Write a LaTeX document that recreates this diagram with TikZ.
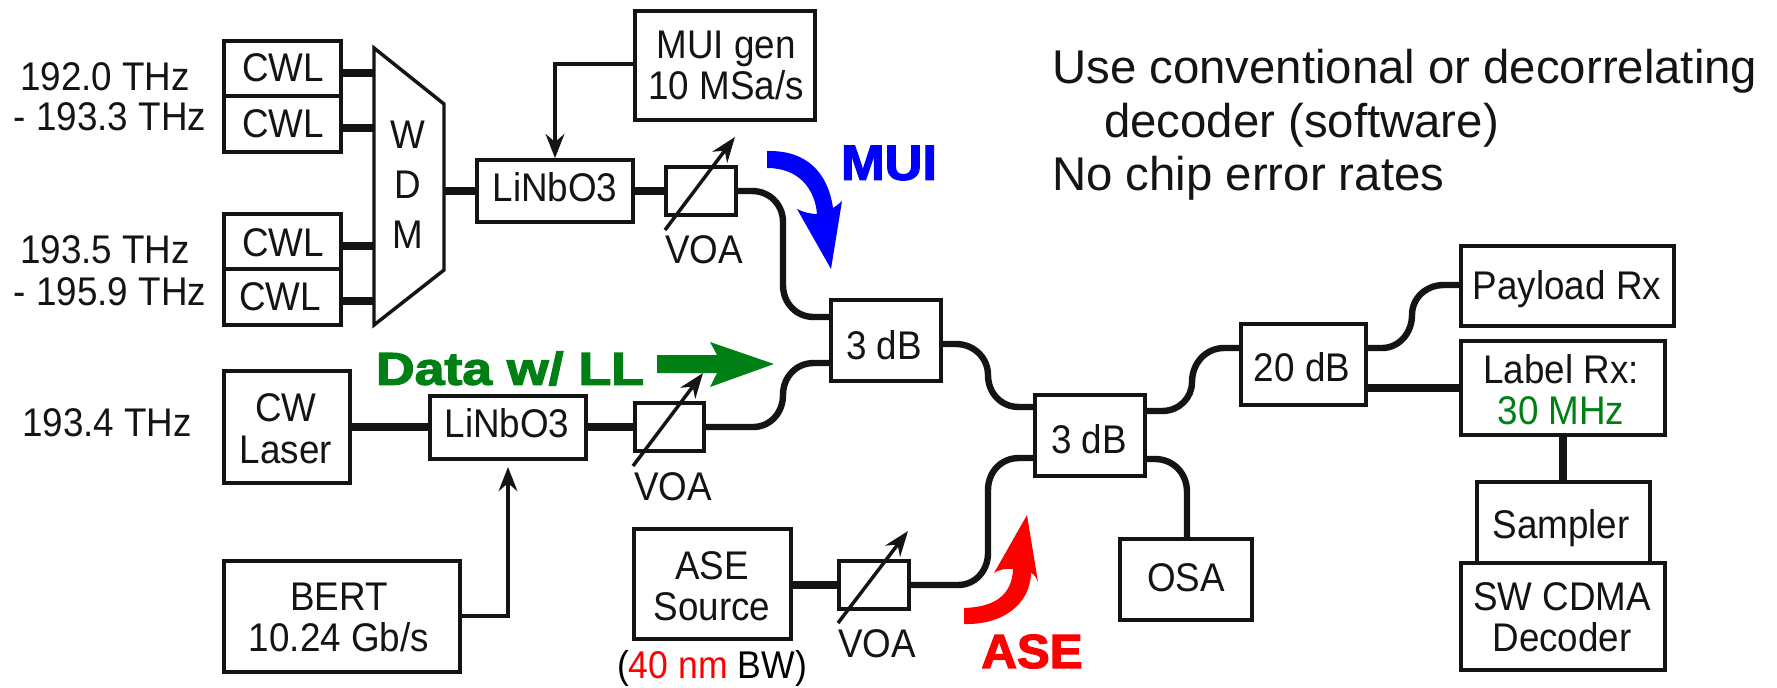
\documentclass[tikz,border=0pt]{standalone}
\usepackage{fontspec}
\usepackage{graphicx}
\setmainfont[FakeStretch=0.92]{Liberation Sans}
\newfontfamily\plainfont{Liberation Sans}
\newfontfamily\fatfont[FakeBold=2.5]{Liberation Sans Bold}
\usetikzlibrary{arrows.meta,calc}
\definecolor{dgreen}{RGB}{0,128,20}
\definecolor{ink}{RGB}{20,20,20}
\newcommand{\sz}{\fontsize{30}{31}\selectfont}
\tikzset{
  x=0.75pt,y=-0.75pt,
  lbl/.style={inner sep=0pt,font=\sz,text=ink,align=center,text depth=0pt},
  note/.style={inner sep=0pt,anchor=base west,font=\plainfont\fontsize{35.5}{37}\selectfont,text=ink},
  bx/.style={draw=ink,line width=2.8pt,fill=white,inner sep=0pt},
  fib/.style={draw=ink,line width=4.8pt},
  fibs/.style={draw=ink,line width=5.6pt},
  voaarrow/.style={draw=ink,line width=2.6pt,-{Stealth[length=19pt,width=14pt]}},
  ctlarrow/.style={draw=ink,line width=2.8pt,-{Stealth[length=18pt,width=14pt]}},
}
\newcommand{\emptybox}[5]{%
  \node[bx,minimum width={(#4-#2)*0.75pt},minimum height={(#5-#3)*0.75pt}] (#1) at ({(#2+#4)/2},{(#3+#5)/2}) {};
}
\newcommand{\boxnode}[7]{% name,x1,y1,x2,y2,text centre,text
  \emptybox{#1}{#2}{#3}{#4}{#5}
  \node[lbl] (#1t) at (#6) {#7};
}
\begin{document}
\begin{tikzpicture}
\useasboundingbox (0,0) rectangle (1777,687);
\fill[white] (0,0) rectangle (1777,687);
% WDM
\coordinate (w1) at (374,48);\coordinate (w2) at (444,104);\coordinate (w3) at (444,270);\coordinate (w4) at (374,325);
\draw[draw=ink,line width=2.6pt] (w1)--(w2)--(w3)--(w4)--cycle;
\node[lbl] (wt1) at (408,135) {W};
\node[lbl] (wt2) at (408,185) {D};
\node[lbl] (wt3) at (408,235) {M};
% boxes
\boxnode{cwla}{224}{41}{341}{96}{283,68}{CWL}
\boxnode{cwlb}{224}{96}{341}{152}{283,124}{CWL}
\boxnode{cwlc}{224}{214}{341}{269}{283,243}{CWL}
\boxnode{cwld}{224}{269}{341}{325}{280,297}{CWL}
\boxnode{lna}{477}{160}{633}{222}{555,187}{LiNbO3}
\boxnode{lnb}{430}{396}{586}{459}{507,423}{LiNbO3}
\emptybox{voaa}{666}{167}{736}{215}
\emptybox{voab}{635}{403}{704}{451}
\emptybox{voac}{839}{561}{909}{609}
\boxnode{mui}{635}{11}{815}{120}{726,65.5}{MUI gen\\10 MSa/s}
\boxnode{cw}{224}{371}{350}{483}{286,428.5}{CW\\Laser}
\boxnode{bert}{224}{561}{460}{672}{339,617}{BERT\\10.24 Gb/s}
\boxnode{ase}{634}{529}{791}{639}{712,586}{ASE\\Source}
\boxnode{tda}{831}{300}{941}{381}{884,345}{3 dB}
\boxnode{tdb}{1035}{395}{1145}{476}{1089,439}{3 dB}
\boxnode{osa}{1120}{539}{1252}{620}{1186,578}{OSA}
\boxnode{tw}{1241}{324}{1366}{405}{1302,367}{20 dB}
\boxnode{pay}{1461}{246}{1674}{326}{1567,285}{Payload Rx}
\boxnode{labl}{1461}{341}{1665}{435}{1561,389.5}{Label Rx:\\\textcolor{dgreen}{30 MHz}}
\boxnode{samp}{1477}{482}{1650}{563}{1561,524}{Sampler}
\boxnode{sw}{1461}{563}{1665}{670}{1562,617}{SW CDMA\\Decoder}
% straight fibres
\draw[fibs] (cwla.east |- 0,73) -- (374,73);
\draw[fibs] (cwlb.east |- 0,128) -- (374,128);
\draw[fibs] (cwlc.east |- 0,246) -- (374,246);
\draw[fibs] (cwld.east |- 0,301) -- (374,301);
\draw[fibs] (444,191) coordinate (wo) -- (lna.west |- wo);
\draw[fibs] (lna.east |- wo) -- (voaa.west |- wo);
\draw[fibs] (cw.east |- 0,427) -- (lnb.west |- 0,427);
\draw[fibs] (lnb.east |- 0,427) -- (voab.west |- 0,427);
\draw[fibs] (ase.east |- 0,585) -- (voac.west |- 0,585);
\draw[fibs] (tw.east |- 0,388) -- (labl.west |- 0,388);
\draw[fibs] (labl.south -| 1563,0) -- (samp.north -| 1563,0);
% fibres with s-bends
\draw[fib] (voaa.east |- wo) -- (752,191) .. controls (770,191) and (783,205) .. (783,222) -- (783,285) .. controls (783,303) and (796,317) .. (814,317) -- (tda.west |- 0,317);
\draw[fib] (voab.east |- 0,427) -- (753,427) .. controls (770,427) and (783,413) .. (783,395) .. controls (783,377) and (796,363) .. (814,363) -- (tda.west |- 0,363);
\draw[fib] (voac.east |- 0,585) -- (958,585) .. controls (975,585) and (988,571) .. (988,553) -- (988,490) .. controls (988,472) and (1001,458) .. (1019,458) -- (tdb.west |- 0,458);
\draw[fib] (tda.east |- 0,344) -- (956,344) .. controls (974,344) and (988,358) .. (988,375) .. controls (988,393) and (1001,407) .. (1019,407) -- (tdb.west |- 0,407);
\draw[fib] (tdb.east |- 0,411) -- (1162,411) .. controls (1179,411) and (1192,398) .. (1192,382) .. controls (1192,363) and (1206,348) .. (1224,348) -- (tw.west |- 0,348);
\draw[fib] (tdb.east |- 0,459) -- (1155,459) .. controls (1173,459) and (1187,473) .. (1187,492) -- (osa.north -| 1187,0);
\draw[fib] (tw.east |- 0,348) -- (1382,348) .. controls (1399,348) and (1412,333) .. (1412,315) .. controls (1412,298) and (1426,285) .. (1444,285) -- (pay.west |- 0,285);
% control connectors
\draw[ctlarrow] (mui.west |- 0,64) -| (lna.north -| 555,0);
\draw[ctlarrow] (bert.east |- 0,616) -| (508,467) coordinate (lnbin);
% VOA arrows
\coordinate (a1s) at (665,230);\coordinate (a1e) at (735,137);
\coordinate (a2s) at (633,466);\coordinate (a2e) at (703,373);
\coordinate (a3s) at (838,623);\coordinate (a3e) at (908,531);
\draw[voaarrow] (a1s)--(a1e);
\draw[voaarrow] (a3s)--(a3e);
% labels
\node[lbl] (va) at (704,250) {VOA};
\node[lbl] (vb) at (673,487) {VOA};
\node[lbl] (vc) at (877,644) {VOA};
\node[lbl] (f1) at (105,77) {192.0 THz};
\node[lbl] (f2) at (110,117) {- 193.3 THz};
\node[lbl] (f3) at (105,250) {193.5 THz};
\node[lbl] (f4) at (110,292) {- 195.9 THz};
\node[lbl] (f5) at (107,423) {193.4 THz};
\node[lbl,text=black,font=\fontsize{29}{31}\selectfont] (bw) at (712,664) {(\textcolor{red}{40 nm} BW)};
% top right text
\node[note] (n1) at (1052,83) {Use conventional or decorrelating};
\node[note] (n2) at (1104,137) {decoder (software)};
\node[note] (n3) at (1052,190) {No chip error rates};
% big arrows
\fill[dgreen] (657,355)--(717,355)--(710,342)--(774,364)--(710,387)--(717,373)--(657,373)--cycle;
\draw[voaarrow] (a2s)--(a2e);
\fill[red] (964,608) .. controls (995,607) and (1012,595) .. (1013,569) .. controls (1005,568) and (998,570) .. (994,573) -- (1027,515) -- (1038,582) .. controls (1036,577) and (1034,574) .. (1031,573) .. controls (1030,605) and (1002,625) .. (964,624) -- cycle;
\fill[blue] (767,151) .. controls (807,150) and (828,173) .. (833,208) .. controls (836,206) and (839,204) .. (842,201) -- (831,269) -- (797,209) .. controls (803,212) and (810,214) .. (817,214) .. controls (815,190) and (800,168) .. (767,168) -- cycle;
\node[inner sep=0pt,text=dgreen] (dl) at (510,368.5) {\resizebox{201pt}{25pt}{\fatfont Data w/ LL}};
\node[inner sep=0pt,text=blue] (ml) at (889,163) {\resizebox{72pt}{25.5pt}{\fatfont MUI}};
\node[inner sep=0pt,text=red] (al) at (1032,651.5) {\resizebox{76pt}{25pt}{\fatfont ASE}};
\end{tikzpicture}
\end{document}
